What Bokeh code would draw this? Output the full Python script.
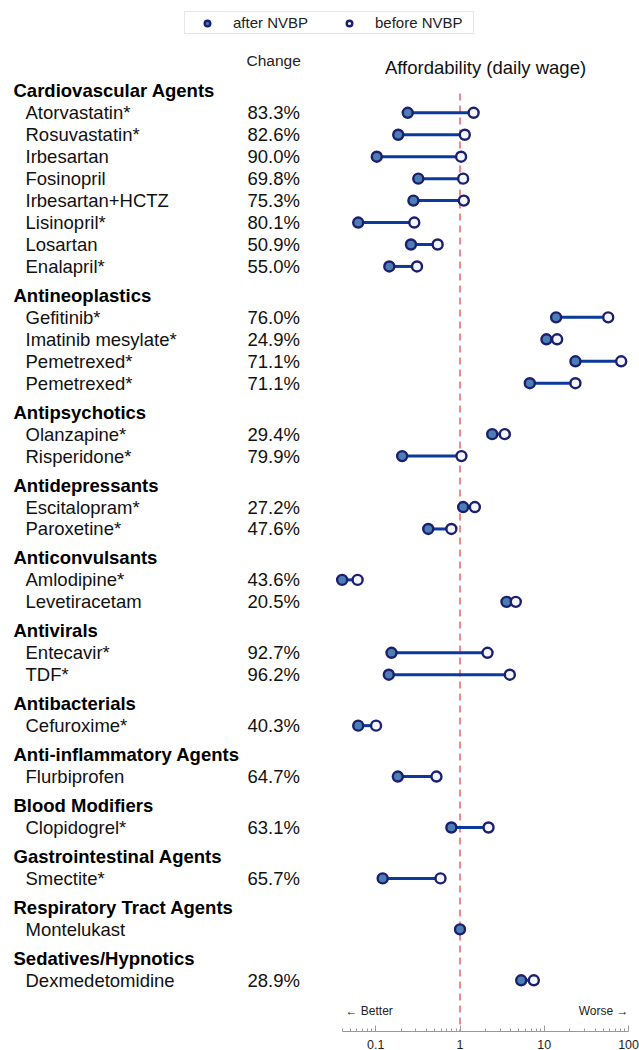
import math
from bokeh.plotting import figure
from bokeh.models import (Range1d, LinearScale, ColumnDataSource, Legend, LegendItem,
                          FixedTicker, NumeralTickFormatter)
from bokeh.core.properties import value
from bokeh.embed import file_html
from bokeh.resources import INLINE

# ---------------- data ----------------
group_names = ["Cardiovascular Agents", "Antineoplastics", "Antipsychotics", "Antidepressants",
               "Anticonvulsants", "Antivirals", "Antibacterials", "Anti-inflammatory Agents",
               "Blood Modifiers", "Gastrointestinal Agents", "Respiratory Tract Agents",
               "Sedatives/Hypnotics"]
group_sizes = [8, 4, 2, 2, 2, 2, 1, 1, 1, 1, 1, 1]
drugs = ["Atorvastatin*", "Rosuvastatin*", "Irbesartan", "Fosinopril", "Irbesartan+HCTZ",
         "Lisinopril*", "Losartan", "Enalapril*",
         "Gefitinib*", "Imatinib mesylate*", "Pemetrexed*", "Pemetrexed*",
         "Olanzapine*", "Risperidone*",
         "Escitalopram*", "Paroxetine*",
         "Amlodipine*", "Levetiracetam",
         "Entecavir*", "TDF*",
         "Cefuroxime*", "Flurbiprofen", "Clopidogrel*", "Smectite*", "Montelukast",
         "Dexmedetomidine"]
change = ["83.3%", "82.6%", "90.0%", "69.8%", "75.3%", "80.1%", "50.9%", "55.0%",
          "76.0%", "24.9%", "71.1%", "71.1%",
          "29.4%", "79.9%",
          "27.2%", "47.6%",
          "43.6%", "20.5%",
          "92.7%", "96.2%",
          "40.3%", "64.7%", "63.1%", "65.7%", "", "28.9%"]
after_nvbp = [0.24, 0.185, 0.103, 0.32, 0.28, 0.062, 0.262, 0.145,
              13.8, 10.6, 23.4, 6.73,
              2.41, 0.206,
              1.09, 0.42,
              0.040, 3.56,
              0.154, 0.143,
              0.062, 0.183, 0.79, 0.121, 1.0, 5.32]
before_nvbp = [1.45, 1.14, 1.03, 1.09, 1.11, 0.287, 0.543, 0.309,
               57.3, 14.2, 81.7, 23.4,
               3.40, 1.04,
               1.50, 0.79,
               0.061, 4.59,
               2.12, 3.90,
               0.101, 0.526, 2.18, 0.587, float("nan"), 7.51]
x_ticks = [0.1, 1, 10, 100]

# ---------------- layout of rows ----------------
GAP = 0.32
header_y, drug_y = [], []
pos = 0.0
for gi, n in enumerate(group_sizes):
    if gi > 0:
        pos += GAP
    header_y.append(pos)
    pos += 1
    for _ in range(n):
        drug_y.append(pos)
        pos += 1

FONT = value("Liberation Sans")
W, H = 639, 1031
PPD = 84.3          # pixels per decade
X1 = 459.5          # screen x of value 1 within frame
lo = 10 ** ((0 - X1) / PPD)
hi = 10 ** ((W - X1) / PPD)
ROW = 21.95
Y0 = 90.35          # screen y of first header within frame
y_top = -Y0 / ROW
y_bot = (H - Y0) / ROW


def ry(py):
    return (py - Y0) / ROW


p = figure(x_axis_type="log", x_range=Range1d(lo, hi), y_range=Range1d(y_bot, y_top),
           frame_width=W, frame_height=H, min_border=0, min_border_bottom=0,
           output_backend="svg", toolbar_location=None, y_axis_location=None,
           outline_line_color=None, background_fill_color="white")
p.extra_x_ranges = {"px": Range1d(0, W)}
p.extra_x_scales = {"px": LinearScale()}
p.grid.visible = False

# reference line at 1
p.segment(x0=[1], x1=[1], y0=[0.12], y1=[y_bot], line_color="#f26b6b",
          line_width=1.6, line_dash="7 5")

src = ColumnDataSource(dict(y=drug_y, a=after_nvbp, b=before_nvbp))
p.segment(x0="a", x1="b", y0="y", y1="y", source=src, line_color="#0a3a9c", line_width=3)
r_after = p.scatter(x="a", y="y", source=src, size=10, fill_color="#4b7fb3",
                    line_color="#1c1f70", line_width=2.4)
r_before = p.scatter(x="b", y="y", source=src, size=10, fill_color="#f4f6ff",
                     line_color="#1c1f70", line_width=2.4)

# table texts
p.text(x=[13] * len(group_names), y=header_y, text=group_names, x_range_name="px",
       text_font=FONT, text_font_size="18.5px", text_font_style="bold",
       text_baseline="middle", text_color="black")
p.text(x=[25] * len(drugs), y=drug_y, text=drugs, x_range_name="px",
       text_font=FONT, text_font_size="18.5px", text_baseline="middle", text_color="#111111")
p.text(x=[247] * len(change), y=drug_y, text=change, x_range_name="px",
       text_font=FONT, text_font_size="18.5px", text_baseline="middle", text_color="#111111")
p.text(x=[246], y=[ry(60)], text=["Change"], x_range_name="px",
       text_font=FONT, text_font_size="15.5px", text_baseline="middle", text_color="#222222")
p.text(x=[485], y=[ry(67)], text=["Affordability (daily wage)"], x_range_name="px",
       text_font=FONT, text_font_size="18.5px", text_baseline="middle", text_align="center",
       text_color="#111111")
p.text(x=[345], y=[ry(1010)], text=["\u2190 Better"], x_range_name="px",
       text_font=FONT, text_font_size="12px", text_baseline="middle", text_color="#222222")
p.text(x=[628], y=[ry(1010)], text=["Worse \u2192"], x_range_name="px",
       text_font=FONT, text_font_size="12px", text_baseline="middle", text_align="right",
       text_color="#222222")

# axis
ax = p.xaxis[0]
minor = [m * 10 ** e for e in range(-2, 2) for m in range(2, 10) if 0.04 <= m * 10 ** e <= 100]
ax.ticker = FixedTicker(ticks=x_ticks, minor_ticks=minor)
ax.formatter = NumeralTickFormatter(format="0.[0]")
ax.bounds = (0.04, 100)
ax.axis_line_color = "#9a9a9a"
ax.major_tick_line_color = "#9a9a9a"
ax.minor_tick_line_color = "#9a9a9a"
ax.major_tick_in = 6
ax.major_tick_out = 0
ax.minor_tick_in = 3
ax.minor_tick_out = 0
ax.major_label_standoff = 8
ax.major_label_text_font = "Liberation Sans"
ax.major_label_text_font_size = "12.5px"
ax.major_label_text_color = "#222222"

legend = Legend(items=[LegendItem(label="after NVBP", renderers=[r_after]),
                       LegendItem(label="before NVBP", renderers=[r_before])],
                orientation="horizontal", location=(184, H - 34),
                padding=2, spacing=0, margin=0, glyph_width=40, glyph_height=14,
                label_width=96, label_height=14, label_standoff=6,
                label_text_font="Liberation Sans", label_text_font_size="15px",
                label_text_color="#222222", border_line_color="#cfcfcf",
                border_line_width=1, background_fill_alpha=1)
p.add_layout(legend)

open("out.html", "w").write(file_html(p, INLINE))
